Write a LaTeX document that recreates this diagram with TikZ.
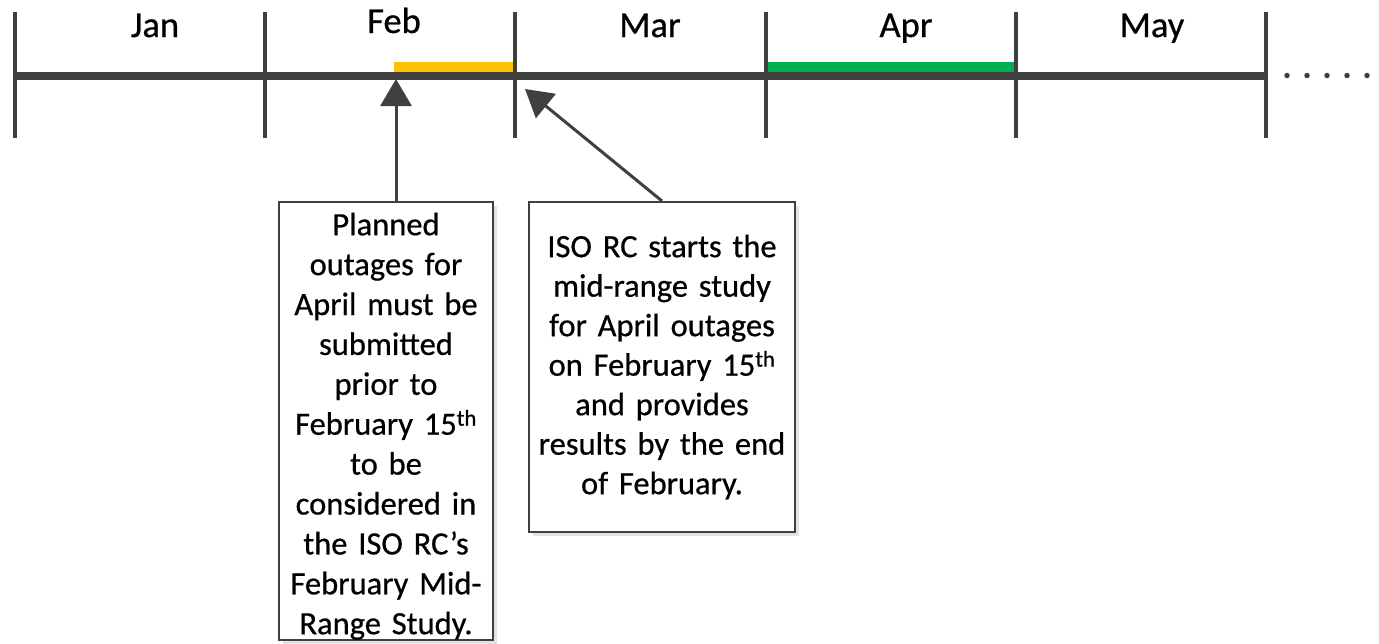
\documentclass[tikz,border=0pt]{standalone}
\usepackage{fontspec}
\setmainfont{Carlito}
\newfontfamily\heavier{Carlito}[FakeBold=0.6]
\usetikzlibrary{arrows.meta,shadows}
\definecolor{dark}{HTML}{404040}
\definecolor{orangebar}{HTML}{FFC000}
\definecolor{greenbar}{HTML}{00B050}
\tikzset{
  tick/.style={line width=4pt, draw=dark},
  axis/.style={line width=8pt, draw=dark},
  month/.style={anchor=base, font=\heavier\fontsize{36.5}{44}\selectfont, inner sep=0pt},
  note/.style={draw=dark, line width=2pt, fill=white, align=center, inner sep=0pt,
    drop shadow={opacity=0.22, shadow xshift=4pt, shadow yshift=-4pt}},
  arr/.style={draw=dark, line width=3pt, -{Triangle[length=27pt,width=31pt]}},
  dotmark/.style={circle, fill=dark, inner sep=0pt, minimum size=5.5pt},
}
\begin{document}
\begin{tikzpicture}[x=1pt,y=-1pt]
\useasboundingbox (0,0) rectangle (1379,643);
% highlighted bars
\fill[orangebar] (394,62) rectangle (515,72);
\fill[greenbar] (766,62) rectangle (1016,72);
% axis
\coordinate (a0) at (15,75.5);
\coordinate (a5) at (1266,75.5);
\draw[axis] (a0) -- (a5);
% ticks
\foreach \x in {15,265.2,515.4,765.6,1015.8,1266}{
  \draw[tick] (\x,12) -- (\x,138);
}
% dots
\foreach \x [count=\i] in {1287,1307,1327,1347,1367}{
  \node[dotmark] (d\i) at (\x,75.5) {};
}
% month labels
\node[month] (jan) at (155,37) {Jan};
\node[month] (feb) at (394,33) {Feb};
\node[month] (mar) at (650,37) {Mar};
\node[month] (apr) at (906,37) {Apr};
\node[month] (may) at (1152,37) {May};
% notes
\node[note, minimum width=214pt, minimum height=438pt, text width=212pt,
      font=\heavier\fontsize{32.5}{39.9}\selectfont] (box1) at (386,421)
  {\rule{0pt}{33pt}Planned\\outages for\\April must be\\submitted\\prior to\\February 15\textsuperscript{th}\\to be\\considered in\\the ISO RC’s\\February Mid-\\Range Study.};
\node[note, minimum width=266pt, minimum height=330pt, text width=264pt,
      font=\heavier\fontsize{32.5}{39.5}\selectfont] (box2) at (662,367)
  {ISO RC starts the\\mid-range study\\for April outages\\on February 15\textsuperscript{th}\\and provides\\results by the end\\of February.};
% arrows
\coordinate (t1) at (396,79);
\coordinate (t2) at (525,89);
\draw[arr] (t1 |- box1.north) -- (t1);
\draw[arr] (box2.north) -- (t2);
\end{tikzpicture}
\end{document}
